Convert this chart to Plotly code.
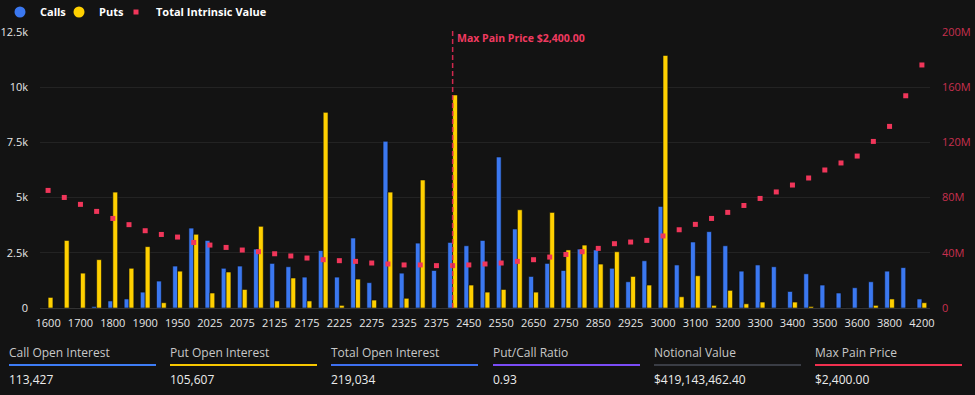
import plotly.graph_objects as go

strikes = ["1600","1650","1700","1750","1800","1850","1900","1925","1950","2000",
           "2025","2050","2075","2100","2125","2150","2175","2200","2225","2250",
           "2275","2300","2325","2350","2375","2400","2450","2500","2550","2600",
           "2650","2700","2750","2800","2850","2900","2925","2950","3000","3050",
           "3100","3150","3200","3250","3300","3350","3400","3450","3500","3550",
           "3600","3700","3800","4000","4200"]

calls = [0, 0, 0, 70, 320, 410, 720, 1220, 1900, 3620,
         3060, 1800, 1900, 2670, 2020, 1870, 1400, 2600, 1400, 3170,
         1150, 7550, 1580, 2940, 1700, 2970, 2820, 3060, 6840, 3580,
         1430, 2020, 1700, 2670, 2630, 1800, 1190, 2140, 4600, 1950,
         2990, 3460, 2820, 1670, 1950, 1870, 750, 1550, 1040, 680,
         920, 1190, 1670, 1830, 410]

puts = [480, 3060, 1580, 2190, 5250, 1800, 2780, 240, 1670, 3340,
        680, 1630, 840, 3700, 320, 1360, 320, 8860, 120, 1310,
        360, 5250, 440, 5800, 0, 9650, 1040, 720, 840, 4450,
        720, 4330, 2630, 2850, 1990, 2550, 1430, 1040, 11440, 510,
        1460, 120, 800, 190, 270, 0, 270, 70, 0, 0,
        0, 120, 410, 0, 240]

intrinsic = [85.2e6, 80.1e6, 75.1e6, 70.0e6, 64.9e6, 60.4e6, 56.0e6, 53.3e6, 51.4e6, 47.5e6,
             45.6e6, 43.9e6, 42.0e6, 40.8e6, 39.3e6, 37.7e6, 36.2e6, 35.0e6, 34.3e6, 33.8e6,
             32.6e6, 31.9e6, 31.2e6, 31.2e6, 30.7e6, 30.7e6, 31.2e6, 31.9e6, 32.6e6, 33.8e6,
             35.0e6, 36.9e6, 38.8e6, 40.8e6, 43.2e6, 46.6e6, 47.8e6, 49.0e6, 52.2e6, 56.7e6,
             60.6e6, 64.9e6, 69.3e6, 74.3e6, 79.4e6, 84.1e6, 89.1e6, 94.2e6, 100.0e6, 105.1e6,
             110.1e6, 120.7e6, 131.6e6, 153.8e6, 176.1e6]

tick_labels = ["1600","1700","1800","1900","1950","2025","2075","2125","2175","2225",
               "2275","2325","2375","2450","2550","2650","2750","2850","2925","3000",
               "3100","3200","3300","3400","3500","3600","3800","4200"]

max_pain = "2400"
max_pain_text = "Max Pain Price $2,400.00"

stat_labels = ["Call Open Interest", "Put Open Interest", "Total Open Interest",
               "Put/Call Ratio", "Notional Value", "Max Pain Price"]
stat_values = ["113,427", "105,607", "219,034", "0.93", "$419,143,462.40", "$2,400.00"]
stat_colors = ["#3d7cf5", "#f7c600", "#3d6ff0", "#7a4cf5", "#3a3d45", "#f0304f"]

BG = "#131313"
BLUE = "#3b78f0"
YELLOW = "#ffd000"
RED = "#f0365a"
FONT = "Open Sans"

W, H = 975, 395
L, R, T, B = 40, 45, 32, 87
PW, PH = W - L - R, H - T - B

def px(x):
    return (x - L) / PW

def py(y):
    return (H - B - y) / PH

mp_idx = strikes.index(max_pain)

fig = go.Figure()
fig.add_trace(go.Bar(x=strikes, y=calls, name="Calls", marker=dict(color=BLUE, line=dict(color="#0d0d0d", width=0.6)), showlegend=False))
fig.add_trace(go.Bar(x=strikes, y=puts, name="Puts", marker=dict(color=YELLOW, line=dict(color="#0d0d0d", width=0.6)), showlegend=False))
fig.add_trace(go.Scatter(x=strikes, y=intrinsic, name="Total Intrinsic Value", mode="markers", yaxis="y2",
                         marker=dict(symbol="square", size=5, color=RED), showlegend=False))

# legend entries
fig.add_trace(go.Scatter(x=[strikes[0]], y=[None], name="Calls", mode="markers", legend="legend",
                         marker=dict(symbol="circle", size=11, color=BLUE)))
fig.add_trace(go.Scatter(x=[strikes[0]], y=[None], name="Puts", mode="markers", legend="legend2",
                         marker=dict(symbol="circle", size=11, color=YELLOW)))
fig.add_trace(go.Scatter(x=[strikes[0]], y=[None], name="Total Intrinsic Value", mode="markers", legend="legend3",
                         marker=dict(symbol="square", size=5, color=RED)))

fig.add_shape(type="line", xref="x", yref="paper", x0=mp_idx, x1=mp_idx, y0=0, y1=py(30),
              line=dict(color="#d0284d", width=1.5, dash="5px,3px"))
fig.add_annotation(xref="x", yref="paper", x=mp_idx, y=py(38), text="<b>" + max_pain_text + "</b>",
                   showarrow=False, xanchor="left", yanchor="middle", xshift=2,
                   font=dict(family=FONT, size=10.5, color="#f03a60"))

col_x = [9, 170, 331, 493, 654, 815]
for lab, val, col, cx in zip(stat_labels, stat_values, stat_colors, col_x):
    fig.add_annotation(xref="paper", yref="paper", x=px(cx), y=py(352), text=lab, showarrow=False,
                       xanchor="left", yanchor="middle", xshift=-2, font=dict(family=FONT, size=12, color="#c8c8c8"))
    fig.add_annotation(xref="paper", yref="paper", x=px(cx), y=py(379), text=val, showarrow=False,
                       xanchor="left", yanchor="middle", xshift=-2, font=dict(family=FONT, size=12, color="#ececec"))
    fig.add_shape(type="line", xref="paper", yref="paper", x0=px(cx), x1=px(cx + 147), y0=py(365), y1=py(365),
                  line=dict(color=col, width=2))

legend_font = dict(family=FONT, size=11, color="#ffffff", weight="bold")

def leg(x0):
    return dict(orientation="h", x=px(x0), y=py(12), xanchor="left", yanchor="middle",
                font=legend_font, bgcolor="rgba(0,0,0,0)", itemclick=False, itemwidth=30)

fig.update_layout(
    width=W, height=H,
    margin=dict(l=L, r=R, t=T, b=B, pad=0, autoexpand=False),
    paper_bgcolor=BG, plot_bgcolor=BG,
    barmode="group", bargap=0.4, bargroupgap=0,
    font=dict(family=FONT, size=11, color="#e6e6e6"),
    showlegend=True,
    legend=leg(0),
    legend2=leg(59),
    legend3=leg(116),
    xaxis=dict(type="category", categoryorder="array", categoryarray=strikes,
               range=[-0.5, len(strikes) - 0.5],
               tickmode="array", tickvals=tick_labels, ticktext=tick_labels,
               tickfont=dict(size=11, color="#e6e6e6"), showgrid=False, ticklabelstandoff=5,
               showline=True, linecolor="#333333", linewidth=1, ticks="", zeroline=False),
    yaxis=dict(range=[0, 12500], dtick=2500, tickformat="~s", gridcolor="#232323", gridwidth=1,
               zeroline=False, tickfont=dict(size=11, color="#e6e6e6"), showline=False,
               ticklabelstandoff=11),
    yaxis2=dict(range=[0, 200e6], dtick=40e6, tickformat="~s", overlaying="y", side="right",
                showgrid=False, zeroline=False, tickfont=dict(size=11, color="#c8304f"),
                ticklabelstandoff=11),
)

fig.write_html("out.html", config={"displayModeBar": False},
               post_script="document.body.style.margin='0';document.body.style.padding='0';")
